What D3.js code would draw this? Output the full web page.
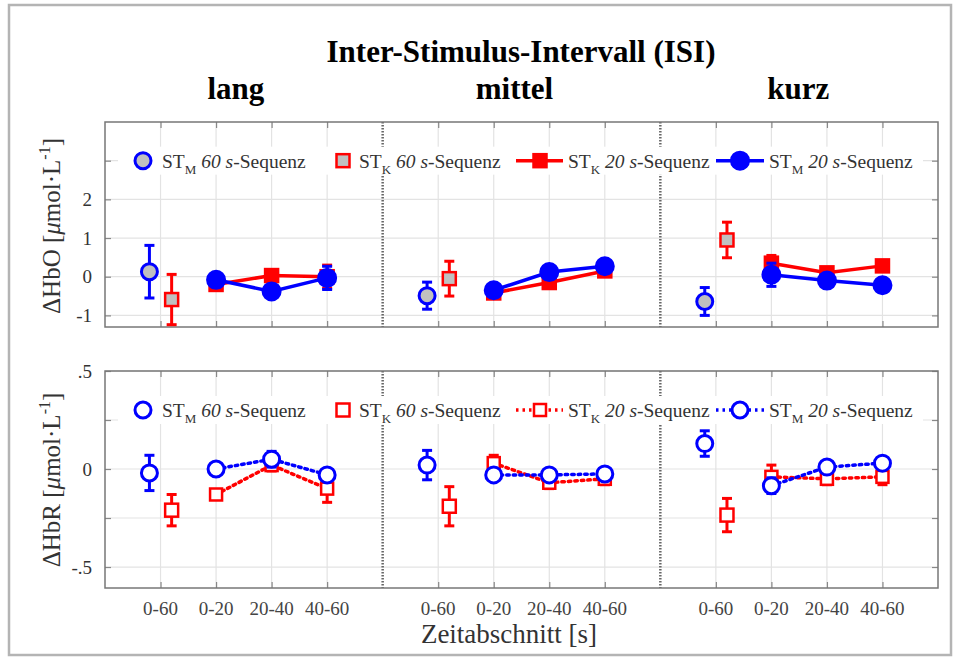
<!DOCTYPE html>
<html>
<head>
<meta charset="utf-8">
<script src="https://cdn.jsdelivr.net/npm/d3@7"></script>
<style>
  body { margin: 0; background: #fff; }
  text { font-family: 'Liberation Serif', 'Times New Roman', serif; }
</style>
</head>
<body>
<div id="chart"></div>
<script>
// data
const groups = ['lang', 'mittel', 'kurz'];
const xTickLabels = ['0-60', '0-20', '20-40', '40-60'];

// HbO, 60 s sequence (one value per ISI group)
const stm60Hbo = [0.13, -0.49, -0.64];
const stm60HboErr = [0.68, 0.35, 0.36];
const stk60Hbo = [-0.59, -0.05, 0.95];
const stk60HboErr = [0.65, 0.45, 0.46];
// HbO, 20 s sequence (0-20, 20-40, 40-60 per group)
const stk20Hbo = [[-0.2, 0.03, 0.0], [-0.42, -0.15, 0.15], [0.35, 0.1, 0.28]];
const stk20HboErr = [[0.1, 0.1, 0.3], [0.1, 0.1, 0.1], [0.2, 0.1, 0.1]];
const stm20Hbo = [[-0.08, -0.38, -0.03], [-0.35, 0.12, 0.27], [0.05, -0.1, -0.22]];
const stm20HboErr = [[0.1, 0.1, 0.3], [0.1, 0.1, 0.1], [0.3, 0.15, 0.1]];

// HbR
const stm60Hbr = [-0.02, 0.02, 0.13];
const stm60HbrErr = [0.09, 0.075, 0.065];
const stk60Hbr = [-0.21, -0.19, -0.235];
const stk60HbrErr = [0.08, 0.1, 0.085];
const stk20Hbr = [[-0.13, 0.02, -0.1], [0.03, -0.07, -0.05], [-0.04, -0.05, -0.04]];
const stk20HbrErr = [[0.02, 0.03, 0.07], [0.04, 0.03, 0.03], [0.06, 0.03, 0.04]];
const stm20Hbr = [[0.0, 0.05, -0.03], [-0.03, -0.03, -0.025], [-0.085, 0.01, 0.03]];
const stm20HbrErr = [[0.02, 0.04, 0.03], [0.02, 0.02, 0.02], [0.04, 0.03, 0.02]];

const hboTicks = [-1, 0, 1, 2, 3];
const hboTickLabels = ['-1', '0', '1', '2', ''];
const hbrTicks = [-0.5, -0.25, 0, 0.25, 0.5];
const hbrTickLabels = ['-.5', '', '0', '', '.5'];

const width = 957, height = 658;
const BLUE = '#0000ff', RED = '#ff0000', GRAY = '#c0c0c0';

const svg = d3.select('#chart').append('svg')
    .attr('width', width).attr('height', height);

// outer frame
svg.append('rect').attr('x', 9).attr('y', 5).attr('width', 942).attr('height', 650)
    .attr('fill', 'none').attr('stroke', '#b4b4b4').attr('stroke-width', 2.5);

// x layout: 15 slots, dividers at 5 and 10
const x = d3.scaleLinear().domain([0, 15]).range([105, 938]);
const pos60 = g => 1 + 5 * g;
const posSeg = (g, i) => 2 + i + 5 * g;
const off = 0.2;

// titles
svg.append('text').attr('x', 521).attr('y', 62).attr('text-anchor', 'middle')
    .attr('font-size', 31).attr('font-weight', 'bold').text('Inter-Stimulus-Intervall (ISI)');
svg.selectAll('text.grp').data(groups).join('text').classed('grp', true)
    .attr('x', (d, g) => x(2.5 + 5 * g) + [-8, -7, -1][g])
    .attr('y', 99).attr('text-anchor', 'middle')
    .attr('font-size', 31).attr('font-weight', 'bold').text(d => d);

function marker(sel, type, color, fill, px, py, size) {
    if (type === 'circle') {
        sel.append('circle').attr('cx', px).attr('cy', py).attr('r', size)
            .attr('fill', fill).attr('stroke', color).attr('stroke-width', 3);
    } else {
        sel.append('rect').attr('x', px - size).attr('y', py - size)
            .attr('width', 2 * size).attr('height', 2 * size)
            .attr('fill', fill).attr('stroke', color).attr('stroke-width', 2.5);
    }
}

function errBar(sel, color, px, y, v, e) {
    const g = sel.append('g').attr('stroke', color).attr('stroke-width', 3);
    g.append('line').attr('x1', px).attr('x2', px).attr('y1', y(v - e)).attr('y2', y(v + e));
    [v - e, v + e].forEach(t => g.append('line')
        .attr('x1', px - 5).attr('x2', px + 5).attr('y1', y(t)).attr('y2', y(t)));
}

function legendLabel(sel, px, py, sub, dur) {
    const t = sel.append('text').attr('x', px).attr('y', py + 7)
        .attr('font-size', 19.5).attr('fill', '#333');
    t.append('tspan').text('ST');
    t.append('tspan').attr('font-size', 13).attr('dy', 6).text(sub);
    t.append('tspan').attr('dy', -6).attr('font-style', 'italic').text(' ' + dur + ' s');
    t.append('tspan').text('-Sequenz');
}

function panel(cfg) {
    const { top, bottom, domain, ticks, tickLabels, label, labelY, solid } = cfg;
    const y = d3.scaleLinear().domain(domain).range([bottom, top]);
    const left = x(0), right = x(15);
    const g = svg.append('g');

    // grid
    g.append('g').selectAll('line').data(ticks).join('line')
        .attr('x1', left).attr('x2', right).attr('y1', d => y(d)).attr('y2', d => y(d))
        .attr('stroke', '#e3e3e3').attr('stroke-width', 1.2);
    const gridX = d3.range(15).filter(i => i % 5 !== 0);
    g.append('g').selectAll('line').data(gridX).join('line')
        .attr('x1', d => x(d)).attr('x2', d => x(d)).attr('y1', top).attr('y2', bottom)
        .attr('stroke', '#e3e3e3').attr('stroke-width', 1.2);

    // axes with inward ticks
    const yl = g.append('g').attr('transform', `translate(${left},0)`)
        .call(d3.axisLeft(y).tickValues(ticks).tickSize(-6).tickPadding(13)
            .tickFormat((d, i) => tickLabels[i]));
    const yr = g.append('g').attr('transform', `translate(${right},0)`)
        .call(d3.axisRight(y).tickValues(ticks).tickSize(-6).tickFormat(''));
    const xt = g.append('g').attr('transform', `translate(0,${top})`)
        .call(d3.axisTop(x).tickValues(gridX).tickSize(-6).tickFormat(''));
    const xb = g.append('g').attr('transform', `translate(0,${bottom})`)
        .call(d3.axisBottom(x).tickValues(gridX).tickSize(-6).tickFormat(''));
    [yl, yr, xt, xb].forEach(a => {
        a.select('.domain').remove();
        a.selectAll('line').attr('stroke', '#888').attr('stroke-width', 1.2);
        a.selectAll('text').attr('font-size', 19).attr('fill', '#333')
            .style('font-family', "'Liberation Serif', serif");
    });

    // legend row sits on the upper unlabeled tick
    const ly = solid ? y(ticks[4]) : y(ticks[3]) - 10;
    g.append('rect').attr('x', 118).attr('y', ly - 14).attr('width', 805).attr('height', 28)
        .attr('fill', '#fff');

    // dividers
    g.selectAll('line.div').data([5, 10]).join('line').classed('div', true)
        .attr('x1', d => x(d)).attr('x2', d => x(d)).attr('y1', top).attr('y2', bottom)
        .attr('stroke', '#666').attr('stroke-width', 2.5).attr('stroke-dasharray', '1.5,1.5');
    g.selectAll('rect.lgcover').data([5, 10]).join('rect').classed('lgcover', true)
        .attr('x', d => x(d) - 3).attr('y', ly - 14).attr('width', 6).attr('height', 28)
        .attr('fill', '#fff');

    // box
    g.append('rect').attr('x', left).attr('y', top).attr('width', right - left)
        .attr('height', bottom - top).attr('fill', 'none')
        .attr('stroke', '#777').attr('stroke-width', 1.5);

    // y label
    const yt = g.append('text')
        .attr('transform', `translate(60,${labelY})rotate(-90)`)
        .attr('text-anchor', 'middle').attr('font-size', 25).attr('fill', '#333');
    yt.append('tspan').text('\u0394' + label + ' [');
    yt.append('tspan').attr('font-style', 'italic').text('\u03bc');
    yt.append('tspan').text('mol\u00b7L');
    yt.append('tspan').attr('font-size', 16).attr('dy', -10).text('-1');
    yt.append('tspan').attr('dy', 10).text(']');

    const d = cfg.data;
    const fill60 = solid ? GRAY : '#fff';
    const dash = solid ? null : '2.5,4';

    // 20 s series: red first, blue on top
    [[d.k20, d.k20e, RED, 'rect'], [d.m20, d.m20e, BLUE, 'circle']].forEach(([vals, errs, col, type]) => {
        vals.forEach((row, gi) => {
            const pts = row.map((v, i) => [x(posSeg(gi, i)), y(v)]);
            g.append('path').attr('d', d3.line()(pts)).attr('fill', 'none')
                .attr('stroke', col).attr('stroke-width', 3.5)
                .attr('stroke-dasharray', dash).attr('stroke-linecap', solid ? 'butt' : 'round');
            row.forEach((v, i) => {
                errBar(g, col, x(posSeg(gi, i)), y, v, errs[gi][i]);
                if (type === 'circle') marker(g, 'circle', col, solid ? col : '#fff', x(posSeg(gi, i)), y(v), solid ? 8.5 : 8);
                else marker(g, 'rect', col, solid ? col : '#fff', x(posSeg(gi, i)), y(v), solid ? 6.5 : 6);
            });
        });
    });

    // 60 s series
    groups.forEach((grp, gi) => {
        errBar(g, BLUE, x(pos60(gi) - off), y, d.m60[gi], d.m60e[gi]);
        marker(g, 'circle', BLUE, fill60, x(pos60(gi) - off), y(d.m60[gi]), 8);
        errBar(g, RED, x(pos60(gi) + off), y, d.k60[gi], d.k60e[gi]);
        marker(g, 'rect', RED, fill60, x(pos60(gi) + off), y(d.k60[gi]), 6.5);
    });

    // legend
    marker(g, 'circle', BLUE, fill60, 143, ly, 8);
    legendLabel(g, 162, ly, 'M', 60);
    marker(g, 'rect', RED, fill60, 343, ly, 6.5);
    legendLabel(g, 359, ly, 'K', 60);
    g.append('line').attr('x1', 516).attr('x2', 563).attr('y1', ly).attr('y2', ly)
        .attr('stroke', RED).attr('stroke-width', 3.5).attr('stroke-dasharray', dash);
    marker(g, 'rect', RED, solid ? RED : '#fff', 540, ly, solid ? 6.5 : 6);
    legendLabel(g, 568, ly, 'K', 20);
    g.append('line').attr('x1', 716).attr('x2', 764).attr('y1', ly).attr('y2', ly)
        .attr('stroke', BLUE).attr('stroke-width', 3.5).attr('stroke-dasharray', dash);
    marker(g, 'circle', BLUE, solid ? BLUE : '#fff', 740, ly, solid ? 8.5 : 8);
    legendLabel(g, 769, ly, 'M', 20);
}

panel({
    top: 122, bottom: 327, domain: [-1.3, 4], ticks: hboTicks, tickLabels: hboTickLabels,
    label: 'HbO', labelY: 226, solid: true,
    data: { m60: stm60Hbo, m60e: stm60HboErr, k60: stk60Hbo, k60e: stk60HboErr,
            k20: stk20Hbo, k20e: stk20HboErr, m20: stm20Hbo, m20e: stm20HboErr }
});
panel({
    top: 371, bottom: 588, domain: [-0.607, 0.5], ticks: hbrTicks, tickLabels: hbrTickLabels,
    label: 'HbR', labelY: 480, solid: false,
    data: { m60: stm60Hbr, m60e: stm60HbrErr, k60: stk60Hbr, k60e: stk60HbrErr,
            k20: stk20Hbr, k20e: stk20HbrErr, m20: stm20Hbr, m20e: stm20HbrErr }
});

// x tick labels under the lower panel
const xLab = [];
groups.forEach((grp, gi) => xTickLabels.forEach((t, i) => xLab.push({ t, p: i === 0 ? pos60(gi) : posSeg(gi, i - 1) })));
svg.append('g').selectAll('text').data(xLab).join('text')
    .attr('x', d => x(d.p)).attr('y', 615).attr('text-anchor', 'middle')
    .attr('font-size', 19).attr('fill', '#444').text(d => d.t);

svg.append('text').attr('x', 509).attr('y', 643).attr('text-anchor', 'middle')
    .attr('font-size', 27).attr('fill', '#333').text('Zeitabschnitt [s]');
</script>
</body>
</html>
